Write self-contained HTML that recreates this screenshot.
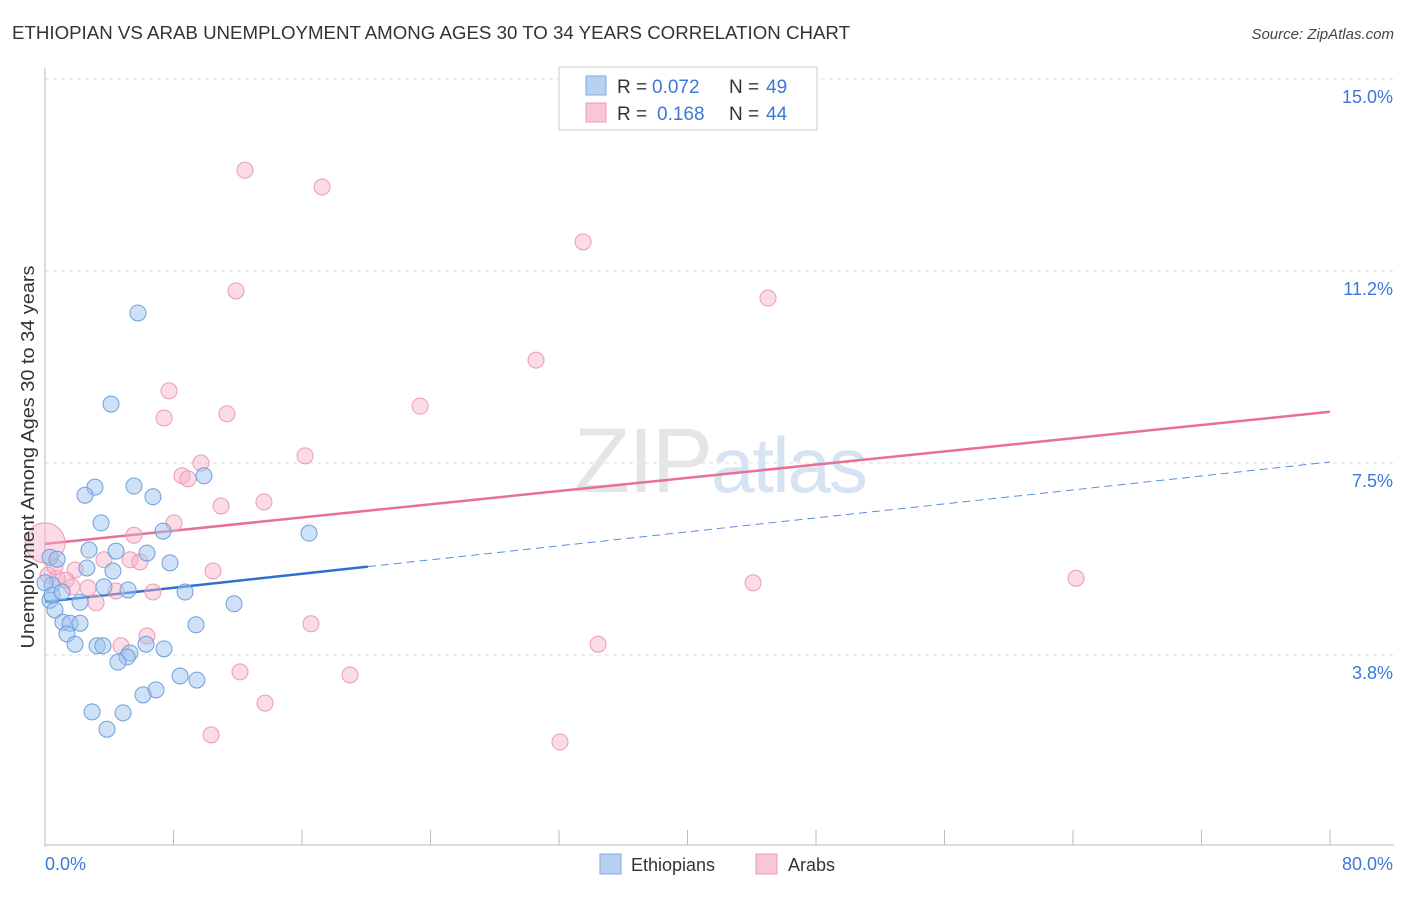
<!DOCTYPE html>
<html><head><meta charset="utf-8"><style>
body{margin:0;background:#fff;font-family:"Liberation Sans",sans-serif;}
svg text{font-family:"Liberation Sans",sans-serif;}
</style></head><body>
<svg id="chart" width="1406" height="892" viewBox="0 0 1406 892" xmlns="http://www.w3.org/2000/svg">
<text x="12" y="39" font-size="18" fill="#333" textLength="838" lengthAdjust="spacingAndGlyphs">ETHIOPIAN VS ARAB UNEMPLOYMENT AMONG AGES 30 TO 34 YEARS CORRELATION CHART</text>
<text x="1394" y="39" font-size="15" fill="#444" text-anchor="end" font-style="italic">Source: ZipAtlas.com</text>
<g id="grid"></g>
<text x="720" y="492" font-size="92" text-anchor="middle" fill="#e5e5e5" font-family="Liberation Serif" letter-spacing="-2">ZIP<tspan fill="#d5e3f3" font-family="Liberation Sans" font-size="78">atlas</tspan></text>
<g id="ticks"></g>
<g id="lines"></g>
<g id="points"></g>
<text transform="translate(34,457) rotate(-90)" font-size="18" fill="#333" text-anchor="middle" textLength="383" lengthAdjust="spacingAndGlyphs">Unemployment Among Ages 30 to 34 years</text>
<g>
<rect x="559" y="67" width="258" height="63" fill="#fff" stroke="#ccc"/>
<rect x="586" y="76" width="20" height="19" fill="#b8d1f2" stroke="#7fa8de"/>
<rect x="586" y="103" width="20" height="19" fill="#f8c6d5" stroke="#ec9ab5"/>
<text x="617" y="93" font-size="19" fill="#333">R =</text>
<text x="652" y="93" font-size="19" fill="#3b78d8">0.072</text>
<text x="729" y="93" font-size="19" fill="#333">N =</text>
<text x="766" y="93" font-size="19" fill="#3b78d8">49</text>
<text x="617" y="120" font-size="19" fill="#333">R =</text>
<text x="657" y="120" font-size="19" fill="#3b78d8">0.168</text>
<text x="729" y="120" font-size="19" fill="#333">N =</text>
<text x="766" y="120" font-size="19" fill="#3b78d8">44</text>
</g>
<g>
<rect x="600" y="854" width="21" height="20" fill="#b8d1f2" stroke="#7fa8de"/>
<text x="631" y="871" font-size="18" fill="#333">Ethiopians</text>
<rect x="756" y="854" width="21" height="20" fill="#f8c6d5" stroke="#ec9ab5"/>
<text x="788" y="871" font-size="18" fill="#333">Arabs</text>
</g>
</svg>
<script>
const yTicks=[3.75,7.5,11.25,15.0];
const yTickLabels=["3.8%","7.5%","11.2%","15.0%"];
const xTickCount=10;
const xTickLabels=["0.0%","80.0%"];
const ethX=[5.79,4.11,3.11,2.49,5.54,6.72,9.90,3.49,7.35,16.44,2.74,4.42,6.35,7.78,2.61,4.23,0.31,0.75,0.44,3.67,5.17,8.72,11.77,2.18,0.31,0.62,1.12,1.56,2.18,1.37,1.87,3.24,3.61,9.40,6.29,5.29,7.41,5.11,4.54,8.41,9.46,6.91,6.10,2.93,4.86,3.86,0,0.44,1.06];
const ethY=[10.43,8.65,7.03,6.87,7.05,6.84,7.25,6.33,6.17,6.13,5.80,5.78,5.74,5.55,5.45,5.39,5.66,5.62,5.12,5.08,5.02,4.98,4.75,4.78,4.82,4.63,4.39,4.37,4.37,4.16,3.96,3.93,3.93,4.34,3.96,3.79,3.87,3.71,3.61,3.34,3.26,3.07,2.97,2.64,2.62,2.30,5.16,4.92,4.98];
const arabX=[12.45,17.25,33.50,11.89,45.01,30.57,7.72,7.41,11.33,23.35,16.19,9.71,8.53,8.90,13.63,10.96,8.03,5.54,5.29,5.91,3.67,1.87,1.31,0.75,0.19,0.62,2.68,1.68,4.42,6.72,10.46,3.18,44.08,64.19,6.35,4.73,16.56,34.43,12.14,18.99,13.70,10.34,32.06,0];
const arabY=[13.22,12.89,11.82,10.86,10.72,9.51,8.91,8.38,8.46,8.61,7.64,7.50,7.25,7.19,6.74,6.66,6.33,6.09,5.61,5.57,5.61,5.41,5.21,5.25,5.31,5.47,5.06,5.08,5.00,4.98,5.39,4.77,5.16,5.25,4.12,3.93,4.36,3.96,3.42,3.36,2.81,2.19,2.05,5.94];
const ethTrend=[4.79,7.52];
const arabTrend=[5.92,8.50];
const ethSolidMax=20.1;
const NS="http://www.w3.org/2000/svg";
const X0=45,X1=1330,Y0=847,YPX=51.2;
function sx(v){return X0+v/80*(X1-X0);}
function sy(v){return Y0-v*YPX;}
function mk(t,a,parent){const e=document.createElementNS(NS,t);for(const k in a)e.setAttribute(k,a[k]);document.getElementById(parent).appendChild(e);return e;}
yTicks.forEach((t,i)=>{
 const l=mk('line',{x1:45,x2:1394,y1:sy(t),y2:sy(t),stroke:'#ddd','stroke-dasharray':'4,4'},'grid');
 
 
 const tx=mk('text',{x:1393,y:sy(t)+24,'font-size':18,fill:'#3b78d8','text-anchor':'end'},'ticks');
 tx.textContent=yTickLabels[i];
 
 
});
const ya=mk('line',{x1:45,x2:45,y1:68,y2:847,stroke:'#bbb'},'ticks');


const xa=mk('line',{x1:45,x2:1394,y1:845,y2:845,stroke:'#bbb'},'ticks');


for(let i=0;i<=xTickCount;i++){
 const t=mk('line',{x1:sx(i*8),x2:sx(i*8),y1:830,y2:845,stroke:'#bbb'},'ticks');
 
 
}
const xl0=mk('text',{x:45,y:870,'font-size':18,fill:'#3b78d8'},'ticks');xl0.textContent=xTickLabels[0];


const xl1=mk('text',{x:1393,y:870,'font-size':18,fill:'#3b78d8','text-anchor':'end'},'ticks');xl1.textContent=xTickLabels[1];


function ty(tr,x){return tr[0]+(tr[1]-tr[0])*x/80;}
arabX.forEach((x,i)=>{
 const r=(i===arabX.length-1)?20:8;
 const c=mk('circle',{cx:sx(x),cy:sy(arabY[i]),r:r,fill:'rgba(246,176,198,0.45)',stroke:'#ec9ab5','stroke-width':1},'points');
 
 
});
ethX.forEach((x,i)=>{
 const c=mk('circle',{cx:sx(x),cy:sy(ethY[i]),r:8,fill:'rgba(160,195,238,0.5)',stroke:'#6f9fdc','stroke-width':1},'points');
 
 
});
const l1=mk('line',{x1:sx(0),y1:sy(ty(ethTrend,0)),x2:sx(ethSolidMax),y2:sy(ty(ethTrend,ethSolidMax)),stroke:'#2f6fd0','stroke-width':2.5},'lines');


const l2=mk('line',{x1:sx(ethSolidMax),y1:sy(ty(ethTrend,ethSolidMax)),x2:sx(80),y2:sy(ty(ethTrend,80)),stroke:'#5a8edb','stroke-width':1,'stroke-dasharray':'8,5'},'lines');


const l3=mk('line',{x1:sx(0),y1:sy(ty(arabTrend,0)),x2:sx(80),y2:sy(ty(arabTrend,80)),stroke:'#e86f98','stroke-width':2.5},'lines');


</script>
</body></html>
